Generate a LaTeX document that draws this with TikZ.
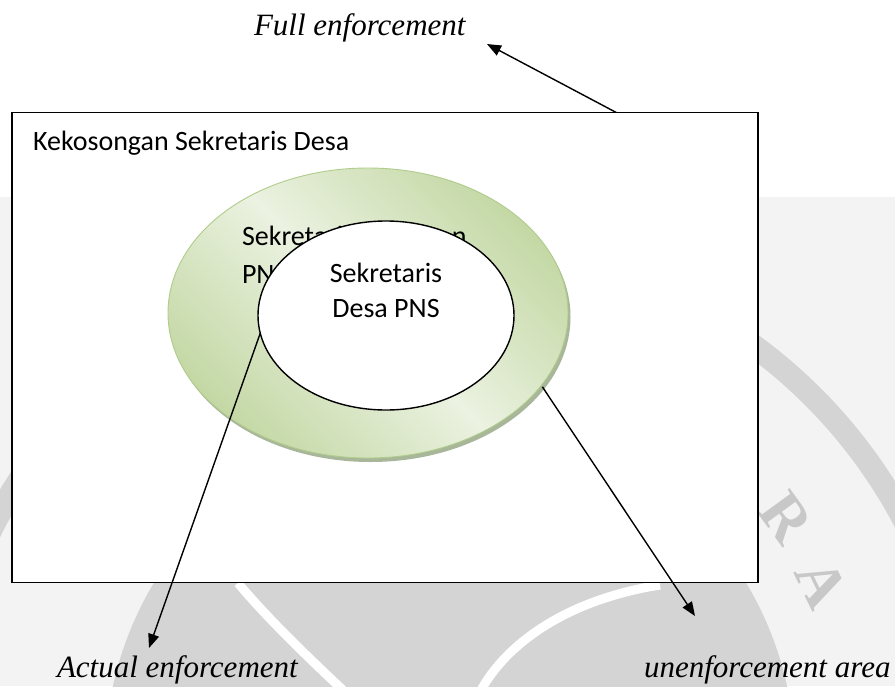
\documentclass[tikz,border=0pt]{standalone}
\usepackage{fontspec}
\setmainfont{Carlito}
\newfontfamily\labelserif{Liberation Serif}
\usetikzlibrary{arrows.meta,shapes.geometric,calc}

\definecolor{bandgray}{HTML}{F3F3F3}
\definecolor{sealgray}{HTML}{D4D4D4}
\definecolor{sealletter}{HTML}{C8C8C8}
\definecolor{gdark}{HTML}{C4D8A5}
\definecolor{glight}{HTML}{EBF2E1}
\definecolor{gedge}{HTML}{B0CC8C}
\definecolor{gshadow}{HTML}{A8B69A}

\pgfdeclarehorizontalshading{ringshade}{100bp}{color(0bp)=(gdark); color(25bp)=(gdark); color(50bp)=(glight); color(75bp)=(gdark); color(100bp)=(gdark)}

\begin{document}
\begin{tikzpicture}[x=1pt,y=-1pt,
  every node/.style={inner sep=0pt, outer sep=0pt},
  sanslabel/.style={font=\fontsize{28}{34}\selectfont, text=black},
  italiclabel/.style={font=\labelserif\itshape\fontsize{31}{36}\selectfont, text=black},
  pointer/.style={draw=black, line width=1.4pt, -{Triangle[length=14pt,width=11pt]}},
  sealstroke/.style={draw=white, line width=9pt},
  sealglyph/.style={text=sealletter, font=\labelserif\bfseries\fontsize{62}{62}\selectfont},
]
\useasboundingbox (0,0) rectangle (895,686);

% page background with the faint seal in the lower band
\fill[white] (0,0) rectangle (895,686);
\fill[bandgray] (0,197) rectangle (895,686);
\begin{scope}
  \clip (0,197) rectangle (895,686);
  \fill[sealgray, even odd rule] (450,760) circle[radius=525pt] (450,760) circle[radius=502pt];
  \fill[sealgray] (450,760) circle[radius=345pt];
  \draw[sealstroke] (238,583) .. controls (262,612) and (300,650) .. (345,692);
  \draw[sealstroke] (480,692) .. controls (505,645) and (565,600) .. (660,585);
  \node[sealglyph, rotate=-54] (sealR) at (786,518) {R};
  \node[sealglyph, rotate=-64] (sealA) at (822,584) {A};
\end{scope}

% outer frame
\node[draw=black, line width=1.8pt, fill=white, minimum width=746pt, minimum height=470pt,
      anchor=north west] (frame) at (12,112.5) {};
\node[sanslabel, anchor=base west] (vacancy) at (33,150) {Kekosongan Sekretaris Desa};

% green ring with its bevel shadow
\fill[gshadow] (370.5,317) ellipse[x radius=200pt, y radius=145pt];
\node[ellipse, minimum width=400pt, minimum height=290pt, shading=ringshade, shading angle=45,
      draw=gedge, line width=0.9pt] (ring) at (368,313) {};
\node[sanslabel, anchor=base west] (ringtxtA) at (242,245) {Sekretaris Desa non};
\node[sanslabel, anchor=base west] (ringtxtB) at (242,283) {PNS};

% inner white ellipse
\node[ellipse, draw=black, line width=1.4pt, fill=white, minimum width=256pt, minimum height=189pt]
      (core) at (386,315.5) {};
\node[sanslabel, anchor=base] (coretxtA) at (386,282) {Sekretaris};
\node[sanslabel, anchor=base] (coretxtB) at (386,317) {Desa PNS};

% labels
\node[italiclabel, anchor=base west] (fulltxt) at (254,35) {Full enforcement};
\node[italiclabel, anchor=base west] (actualtxt) at (57,677) {Actual enforcement};
\node[italiclabel, anchor=base west] (unenftxt) at (644,677) {unenforcement area};

% pointers
\coordinate (fullfoot) at ($(frame.north west)!0.81!(frame.north east)$);
\coordinate (fulltip) at (487,44);
\coordinate (actualtip) at (149,648);
\coordinate (unenftip) at (695,616);
\draw[pointer] (fullfoot) -- (fulltip);
\draw[pointer] (core.188) -- (actualtip);
\draw[pointer] ([shift={(4pt,2pt)}]ring.-24) -- (unenftip);
\end{tikzpicture}
\end{document}
